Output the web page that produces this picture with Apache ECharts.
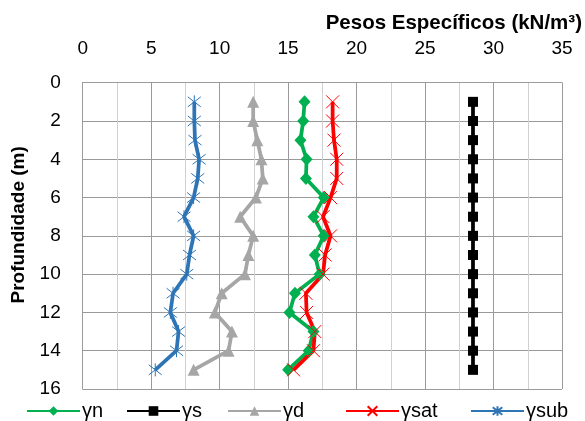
<!DOCTYPE html>
<html>
<head>
<meta charset="utf-8">
<script src="https://cdn.jsdelivr.net/npm/echarts@6/dist/echarts.min.js"></script>
<style>html,body{margin:0;padding:0;background:#fff}#c{width:585px;height:421px}</style>
</head>
<body>
<div id="c"></div>
<script>
const depths = [1,2,3,4,5,6,7,8,9,10,11,12,13,14,15];
const yn   = [16.2,16.1,15.9,16.35,16.3,17.6,16.85,17.6,16.95,17.3,15.5,15.1,16.85,16.5,15.0];
const ys   = [28.5,28.5,28.5,28.5,28.5,28.5,28.5,28.5,28.5,28.5,28.5,28.5,28.5,28.5,28.5];
const yd   = [12.45,12.45,12.75,13.05,13.15,12.65,11.5,12.45,12.1,11.85,10.15,9.65,10.9,10.65,8.1];
const ysat = [18.25,18.25,18.35,18.55,18.55,18.1,17.55,18.1,17.7,17.55,16.3,16.35,16.95,16.85,15.4];
const ysub = [8.15,8.15,8.2,8.5,8.4,8.1,7.4,8.1,7.8,7.6,6.6,6.4,7.0,6.85,5.3];
const xTicks = {min:0, max:35, interval:5};
const yTicks = {min:0, max:16, interval:2};
const names = ['γn','γs','γd','γsat','γsub'];

const FONT = 'Liberation Sans';
const crossPath = 'path://M0,0L10,10M10,0L0,10';
const starPath = 'path://M0,0L10,10M10,0L0,10M5,-1.5L5,11.5';

function pairs(arr){ return arr.map((v,i)=>[v, depths[i]]); }

const defs = [
  {name:names[0], data:yn, color:'#00B050', symbol:'diamond', size:[12,13]},
  {name:names[1], data:ys, color:'#000000', symbol:'rect', size:10},
  {name:names[2], data:yd, color:'#A6A6A6', symbol:'triangle', size:[12,12]},
  {name:names[3], data:ysat, color:'#FF0000', symbol:crossPath, size:13, stroke:true},
  {name:names[4], data:ysub, color:'#2E75B6', symbol:starPath, size:13, stroke:true}
];

const series = defs.map(d=>({
  name:d.name, type:'line', data:pairs(d.data),
  symbol:d.symbol, symbolSize:d.size, showAllSymbol:true,
  lineStyle:{color:d.color, width:3.75},
  itemStyle: d.stroke ? {color:d.color, borderColor:d.color, borderWidth:1} : {color:d.color},
  emphasis:{disabled:true}, animation:false
}));

const legendLefts = [21, 121, 222, 340, 465];
const legends = defs.map((d,i)=>({
  data:[d.name], left:legendLefts[i], top:396, itemWidth:53, itemHeight:12, itemGap:0,
  textStyle:{fontFamily:FONT, fontSize:20, color:'#000', padding:[0,0,0,-3]},
  selectedMode:false
}));

const chart = echarts.init(document.getElementById('c'));
chart.setOption({
  backgroundColor:'#fff',
  animation:false,
  title:{text:'Pesos Específicos (kN/m³)', right:-2, top:8,
    textStyle:{fontFamily:FONT, fontSize:20.5, fontWeight:'bold', color:'#000'}},
  grid:{left:82.7, top:82.7, right:23, bottom:32},
  legend:legends,
  xAxis:{type:'value', position:'top', min:xTicks.min, max:xTicks.max, interval:xTicks.interval,
    axisLine:{show:true, onZero:false, lineStyle:{color:'#9a9a9a', width:1}},
    axisTick:{show:false},
    axisLabel:{fontFamily:FONT, fontSize:19, color:'#000', margin:24},
    splitLine:{show:true, lineStyle:{color:'#9a9a9a', width:1}},
    minorTick:{show:false, splitNumber:2},
    minorSplitLine:{show:true, lineStyle:{color:'#d0d0d0', width:1}}
  },
  yAxis:{type:'value', inverse:true, min:yTicks.min, max:yTicks.max, interval:yTicks.interval,
    name:'Profundidade (m)', nameLocation:'middle', nameGap:44,
    nameTextStyle:{fontFamily:FONT, fontSize:19, fontWeight:'bold', color:'#000', padding:[0,0,0,22]},
    axisLine:{show:true, lineStyle:{color:'#9a9a9a', width:1}},
    axisTick:{show:false},
    axisLabel:{fontFamily:FONT, fontSize:19, color:'#000', margin:22},
    splitLine:{show:true, lineStyle:{color:'#9a9a9a', width:1}}
  },
  series:series
});
</script>
</body>
</html>
